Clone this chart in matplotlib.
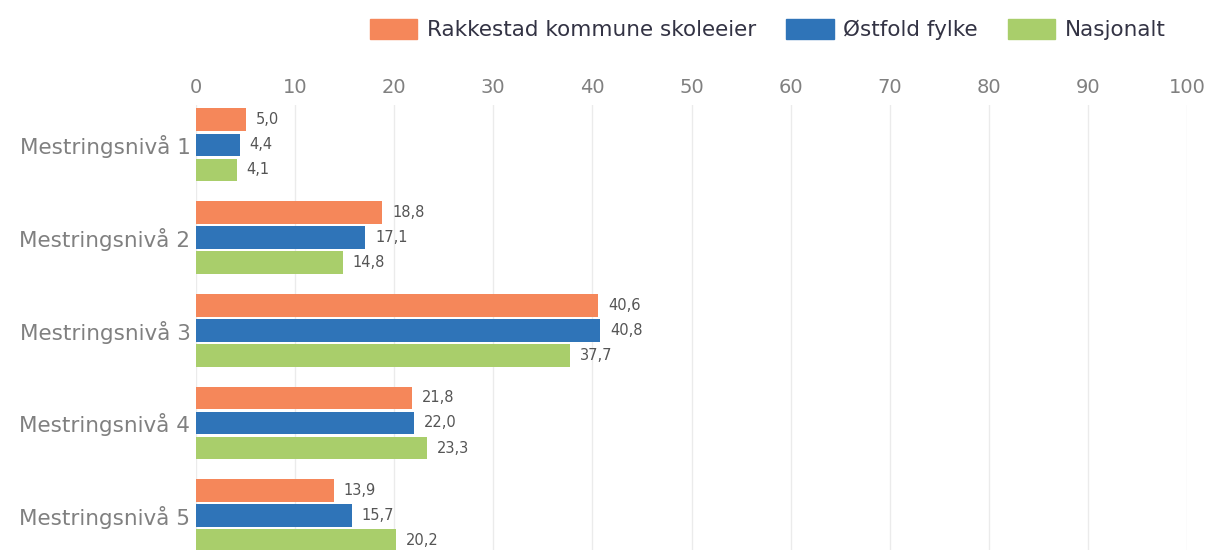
import numpy as np
import matplotlib
matplotlib.use("Agg")
import matplotlib.pyplot as plt
from matplotlib.patches import Patch

categories = ["Mestringsnivå 1", "Mestringsnivå 2", "Mestringsnivå 3",
              "Mestringsnivå 4", "Mestringsnivå 5"]
series_names = ["Rakkestad kommune skoleeier", "Østfold fylke", "Nasjonalt"]
rakkestad = [5.0, 18.8, 40.6, 21.8, 13.9]
ostfold = [4.4, 17.1, 40.8, 22.0, 15.7]
nasjonalt = [4.1, 14.8, 37.7, 23.3, 20.2]
xticks = [0, 10, 20, 30, 40, 50, 60, 70, 80, 90, 100]

colors = ["#F5875A", "#2F74B8", "#A9CE6B"]

fig = plt.figure(figsize=(12.07, 5.5), dpi=100)
ax = fig.add_axes([196 / 1207, 0.0, (1187 - 196) / 1207, 1 - 105 / 550])

y = np.arange(len(categories))
offset = 0.27
height = 0.245
for i, (vals, col) in enumerate(zip([rakkestad, ostfold, nasjonalt], colors)):
    pos = y + (i - 1) * offset
    ax.barh(pos, vals, height=height, color=col, zorder=2)
    for p, v in zip(pos, vals):
        ax.text(v + 1.0, p, f"{v:.1f}".replace(".", ","), va="center", ha="left",
                fontsize=10.5, color="#555555")

ax.set_xlim(0, 100)
ax.set_ylim(4.37, -0.43)
ax.set_xticks(xticks)
ax.xaxis.tick_top()
ax.tick_params(axis="x", length=0, pad=6, labelsize=14, labelcolor="#808080")
ax.set_yticks(y)
ax.set_yticklabels(categories)
ax.tick_params(axis="y", length=0, pad=4, labelsize=15.5, labelcolor="#808080")
for s in ax.spines.values():
    s.set_visible(False)
ax.grid(axis="x", color="#ebebeb", linewidth=1, zorder=0)

handles = [Patch(color=c) for c in colors]
fig.legend(handles, series_names, loc="upper right", bbox_to_anchor=(0.982, 1.0),
           ncol=3, frameon=False, fontsize=15.5, handlelength=2.2, handleheight=1.0,
           handletextpad=0.45, columnspacing=1.4, labelcolor="#333344")

fig.savefig("out.png", dpi=100)
